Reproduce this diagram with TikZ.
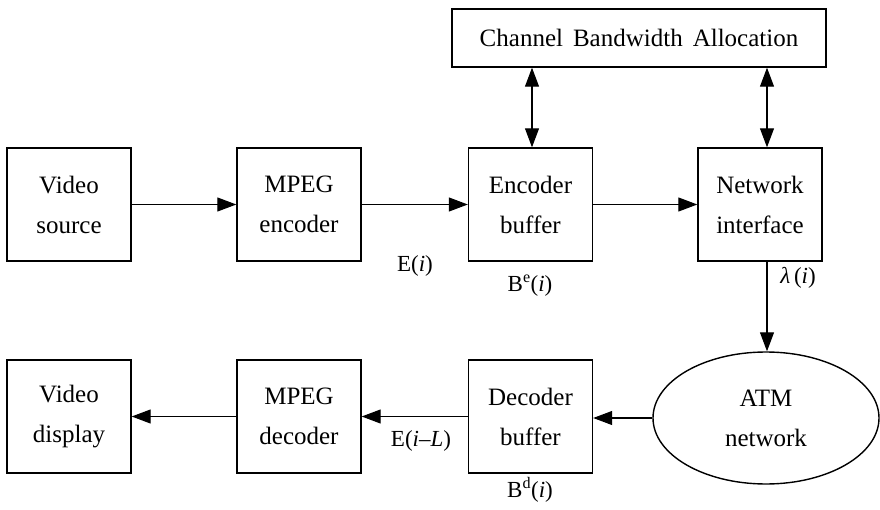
\documentclass[tikz,border=0pt]{standalone}
\usepackage{fontspec}
\setmainfont{Liberation Serif}
\usetikzlibrary{arrows.meta,shapes.geometric,calc}
\begin{document}
\begin{tikzpicture}[x=1pt,y=-1pt,
  every node/.style={font=\fontsize{25}{40}\selectfont},
  blk/.style={draw,line width=1.4pt,minimum width=124pt,minimum height=113pt,align=center,inner sep=0pt},
  lbl/.style={font=\fontsize{23}{27}\selectfont,inner sep=1pt},
  conn/.style={line width=1.1pt,-{Triangle[length=19pt,width=14pt]}},
  biconn/.style={line width=1.1pt,{Triangle[length=19pt,width=14pt]}-{Triangle[length=19pt,width=14pt]}}]
\useasboundingbox (0,0) rectangle (880,510);
\node[blk] (VS) at (69,204.5) {Video\\source};
\node[blk] (ME) at (299,204.5) {MPEG\\encoder};
\node[blk] (EB) at (530.5,204.5) {Encoder\\buffer};
\node[blk] (NI) at (760,204.5) {Network\\interface};
\node[draw,line width=1.4pt,minimum width=374pt,minimum height=58pt,inner sep=0pt] (CBA) at (639,38) {Channel\hspace{0.4em}Bandwidth\hspace{0.4em}Allocation};
\node[blk] (VD) at (69,416.5) {Video\\display};
\node[blk] (MD) at (299,416.5) {MPEG\\decoder};
\node[blk] (DB) at (530.5,416.5) {Decoder\\buffer};
\node[draw,ellipse,line width=1.4pt,minimum width=226pt,minimum height=132pt,inner sep=0pt,align=center] (ATM) at (766,418) {ATM\\network};
\coordinate (ra) at (532,0);
\coordinate (rb) at (767,0);
\draw[conn] (VS) -- (ME);
\draw[conn] (ME) -- (EB);
\draw[conn] (EB) -- (NI);
\draw[biconn] (ra |- CBA.south) -- (ra |- EB.north);
\draw[biconn] (rb |- CBA.south) -- (rb |- NI.north);
\draw[conn] (rb |- NI.south) -- (rb |- ATM.north);
\draw[conn] (ATM.west) -- (DB.east |- ATM.west);
\draw[conn] (DB) -- (MD);
\draw[conn] (MD) -- (VD);
\node[lbl] (Ei) at (415,266) {E(\textit{i})};
\node[lbl] (Be) at (530,286) {B\textsuperscript{e}(\textit{i})};
\node[lbl] (la) at (798,278) {\textit{λ}\,(\textit{i})};
\node[lbl] (EiL) at (421,441) {E(\textit{i}–\textit{L})};
\node[lbl] (Bd) at (530,490) {B\textsuperscript{d}(\textit{i})};
\end{tikzpicture}
\end{document}
